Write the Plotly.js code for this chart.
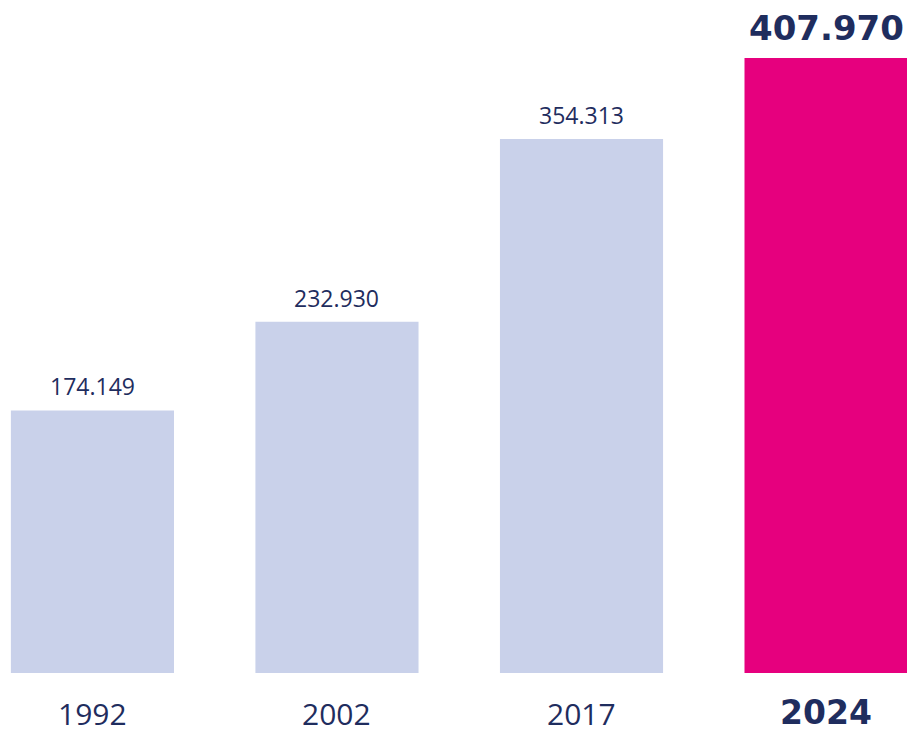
<!DOCTYPE html>
<html><head><meta charset="utf-8">
<script src="https://cdn.plot.ly/plotly-3.0.1.min.js"></script>
<style>html,body{margin:0;padding:0;background:#fff}#c{width:907px;height:734px}</style>
</head><body><div id="c"></div>
<script>
const years = ["1992", "2002", "2017", "2024"];
const values = [174149, 232930, 354313, 407970];
const valueLabels = ["174.149", "232.930", "354.313", "407.970"];
const highlight = [false, false, false, true];

const navy = "#1f2d5e";
const colors = highlight.map(h => h ? "#e6007e" : "#c9d1ea");

const annotations = [];
years.forEach((y, i) => {
  annotations.push({
    x: i, y: values[i], xref: "x", yref: "y",
    text: highlight[i] ? "<b>" + valueLabels[i] + "</b>" : valueLabels[i],
    showarrow: false, yanchor: "bottom", yshift: highlight[i] ? 8 : 6,
    font: {family: highlight[i] ? "DejaVu Sans" : "Open Sans", size: highlight[i] ? 34 : 23, color: navy}
  });
  annotations.push({
    x: i, y: 0, xref: "x", yref: "paper",
    text: highlight[i] ? "<b>" + y + "</b>" : y,
    showarrow: false, yanchor: "top", yshift: highlight[i] ? -18 : -18,
    font: {family: highlight[i] ? "DejaVu Sans" : "Open Sans", size: highlight[i] ? 33 : 30, color: navy}
  });
});

Plotly.newPlot("c", [{
  type: "bar", x: years, y: values,
  marker: {color: colors}, width: 0.667, hoverinfo: "none"
}], {
  width: 907, height: 734,
  margin: {l: 0, r: 0, t: 0, b: 61},
  paper_bgcolor: "#fff", plot_bgcolor: "#fff",
  xaxis: {type: "category", range: [-0.378, 3.331], showticklabels: false, showgrid: false, zeroline: false, showline: false},
  yaxis: {range: [0, 446441], showticklabels: false, showgrid: false, zeroline: false, showline: false},
  annotations: annotations,
  showlegend: false
}, {displayModeBar: false, staticPlot: true});
</script></body></html>
